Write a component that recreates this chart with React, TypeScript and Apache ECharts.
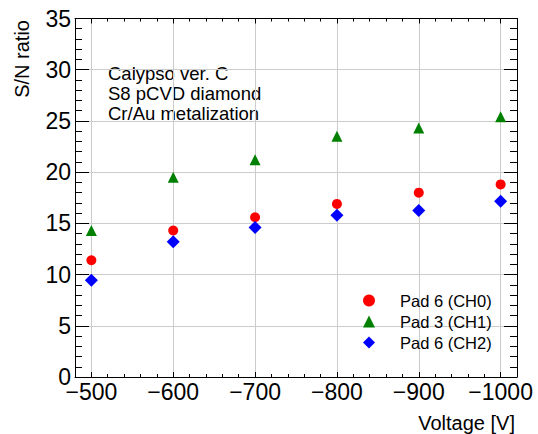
import React, { useEffect, useRef } from "react";
import * as echarts from "echarts";

const voltages = [-500, -600, -700, -800, -900, -1000];
const ch0 = [11.4, 14.3, 15.6, 16.9, 18.0, 18.8];
const ch1 = [14.3, 19.5, 21.2, 23.5, 24.3, 25.4];
const ch2 = [9.45, 13.2, 14.6, 15.8, 16.25, 17.15];
const seriesNames = ["Pad 6 (CH0)", "Pad 3 (CH1)", "Pad 6 (CH2)"];
const annotation = ["Calypso ver. C", "S8 pCVD diamond", "Cr/Au metalization"];

const FONT = "Liberation Sans, Arial, Helvetica, sans-serif";

export default function App() {
  const ref = useRef<HTMLDivElement>(null);
  useEffect(() => {
    if (!ref.current) return;
    document.body.style.margin = "0";
    const chart = echarts.init(ref.current, undefined, { renderer: "svg" });
    const xBase = {
      type: "value" as const,
      min: -1020,
      max: -480,
      inverse: true,
      gridIndex: 0,
    };
    const black = "#000";
    const toPairs = (vals: number[]) => voltages.map((v, i) => [v, vals[i]]);
    chart.setOption({
      animation: false,
      backgroundColor: "#fff",
      grid: { left: 75, right: 21, top: 18.5, bottom: 57, containLabel: false },
      xAxis: [
        {
          ...xBase,
          position: "bottom",
          splitNumber: 5,
          axisLine: { show: true, lineStyle: { color: black, width: 1 } },
          axisTick: { show: true, inside: true, length: 5, lineStyle: { color: black } },
          axisLabel: {
            show: true,
            showMinLabel: false,
            showMaxLabel: false,
            margin: 3,
            fontSize: 23,
            fontFamily: FONT,
            color: black,
            formatter: (v: number) => String(v).replace("-", "\u2212"),
          },
          splitLine: { show: true, lineStyle: { color: "#cccccc", width: 1 } },
        },
        {
          ...xBase,
          position: "bottom",
          interval: 20,
          offset: 0,
          axisLine: { show: false },
          axisTick: { show: true, inside: true, length: 3, lineStyle: { color: black } },
          axisLabel: { show: false },
          splitLine: { show: false },
        },
        {
          ...xBase,
          position: "top",
          splitNumber: 5,
          offset: 0,
          axisLine: { show: true, lineStyle: { color: black, width: 1 } },
          axisTick: { show: true, inside: true, length: 5, lineStyle: { color: black } },
          axisLabel: { show: false },
          splitLine: { show: false },
        },
        {
          ...xBase,
          position: "top",
          interval: 20,
          offset: 0,
          axisLine: { show: false },
          axisTick: { show: true, inside: true, length: 3, lineStyle: { color: black } },
          axisLabel: { show: false },
          splitLine: { show: false },
        },
      ],
      yAxis: [
        {
          type: "value",
          position: "left",
          min: 0,
          max: 35,
          interval: 5,
          axisLine: { show: true, lineStyle: { color: black, width: 1 } },
          axisTick: { show: true, inside: true, length: 14, lineStyle: { color: black } },
          minorTick: { show: true, splitNumber: 5, length: 7, lineStyle: { color: black } },
          axisLabel: { margin: 4, fontSize: 23, fontFamily: FONT, color: black },
          splitLine: { show: true, lineStyle: { color: "#cccccc", width: 1 } },
        },
        {
          type: "value",
          position: "right",
          min: 0,
          max: 35,
          interval: 5,
          axisLine: { show: true, lineStyle: { color: black, width: 1 } },
          axisTick: { show: true, inside: true, length: 13, lineStyle: { color: black } },
          minorTick: { show: true, splitNumber: 5, length: 7, lineStyle: { color: black } },
          axisLabel: { show: false },
          splitLine: { show: false },
        },
      ],
      legend: {
        orient: "vertical",
        left: 363,
        top: 290,
        itemWidth: 12,
        itemHeight: 12,
        itemGap: 0,
        padding: 0,
        textStyle: {
          fontSize: 16.5,
          fontFamily: FONT,
          color: black,
          lineHeight: 21,
          padding: [0, 0, 0, 20],
        },
        data: [
          { name: seriesNames[0], icon: "circle" },
          { name: seriesNames[1], icon: "triangle" },
          { name: seriesNames[2], icon: "diamond" },
        ],
      },
      graphic: [
        {
          type: "text",
          left: 108,
          top: 63,
          style: {
            text: annotation.join("\n"),
            fontSize: 18.5,
            fontFamily: FONT,
            fill: black,
            lineHeight: 20,
          },
        },
        {
          type: "text",
          x: 515,
          y: 422.5,
          style: {
            text: "Voltage [V]",
            fontSize: 20,
            fontFamily: FONT,
            fill: black,
            align: "right",
            verticalAlign: "middle",
          },
        },
        {
          type: "text",
          x: 22,
          y: 20,
          rotation: Math.PI / 2,
          style: {
            text: "S/N ratio",
            fontSize: 20,
            fontFamily: FONT,
            fill: black,
            align: "right",
            verticalAlign: "middle",
          },
        },
      ],
      series: [
        {
          name: seriesNames[0],
          type: "scatter",
          xAxisIndex: 0,
          yAxisIndex: 0,
          symbol: "circle",
          symbolSize: 10,
          itemStyle: { color: "#ff0000", opacity: 1 },
          data: toPairs(ch0),
        },
        {
          name: seriesNames[1],
          type: "scatter",
          xAxisIndex: 0,
          yAxisIndex: 0,
          symbol: "triangle",
          symbolSize: 11,
          itemStyle: { color: "#008000", opacity: 1 },
          data: toPairs(ch1),
        },
        {
          name: seriesNames[2],
          type: "scatter",
          xAxisIndex: 0,
          yAxisIndex: 0,
          symbol: "diamond",
          symbolSize: 13,
          itemStyle: { color: "#0000ff", opacity: 1 },
          data: toPairs(ch2),
        },
      ],
    });
    return () => chart.dispose();
  }, []);
  return <div ref={ref} style={{ width: 538, height: 434 }} />;
}
